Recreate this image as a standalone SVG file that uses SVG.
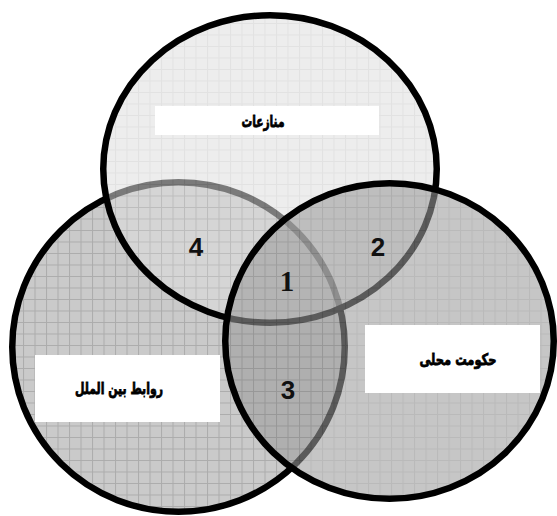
<svg xmlns="http://www.w3.org/2000/svg" width="557" height="516" viewBox="0 0 557 516">
<defs>
<style>
.ring{stroke:#000;stroke-width:6.5}
.box{fill:#fff}
.lbl{font-family:"DejaVu Sans","Noto Sans",sans-serif;font-weight:bold;font-size:16px;fill:#000;stroke:#000;stroke-width:0.8;text-anchor:middle}
.num{font-family:"Liberation Sans",Arial,sans-serif;font-weight:bold;font-size:26px;fill:#111;text-anchor:middle}
.num1{font-family:"Liberation Serif","Times New Roman",serif;font-weight:bold;font-size:29px;fill:#111;text-anchor:middle}
</style>
<pattern id="gL" patternUnits="userSpaceOnUse" width="11.5" height="11.5">
<rect width="11.5" height="11.5" fill="#cacaca"/>
<path d="M0 0.5H11.5M0.5 0V11.5" stroke="#acacac" stroke-width="1"/>
</pattern>
<pattern id="gT" patternUnits="userSpaceOnUse" width="11.5" height="11.5">
<rect width="11.5" height="11.5" fill="#dedede"/>
<path d="M0 0.5H11.5M0.5 0V11.5" stroke="#cacaca" stroke-width="1"/>
</pattern>
<pattern id="gR" patternUnits="userSpaceOnUse" width="11.5" height="11.5">
<rect width="11.5" height="11.5" fill="#9c9c9c"/>
<path d="M0 0.5H11.5M0.5 0V11.5" stroke="#888" stroke-width="1"/>
</pattern>
</defs>
<rect width="557" height="516" fill="#fff"/>
<g id="connectors"/>
<g id="node-international">
<ellipse class="ring" cx="178.5" cy="347" rx="166.25" ry="164.75" fill="url(#gL)"/>
<rect class="box" x="35" y="355" width="185" height="67"/>
<text class="lbl" x="119" y="394" textLength="88" lengthAdjust="spacingAndGlyphs">روابط بین الملل</text>
</g>
<g id="node-conflicts">
<ellipse class="ring" cx="270" cy="169" rx="166.75" ry="153.75" fill="url(#gT)" fill-opacity="0.55"/>
<rect class="box" x="155" y="106" width="224" height="29"/>
<text class="lbl" x="263" y="127" textLength="43" lengthAdjust="spacingAndGlyphs">منازعات</text>
</g>
<g id="node-local-government">
<ellipse class="ring" cx="389.5" cy="341" rx="164.25" ry="157.75" fill="url(#gR)" fill-opacity="0.58"/>
<rect class="box" x="365" y="325" width="175" height="68"/>
<text class="lbl" x="458" y="365" textLength="77" lengthAdjust="spacingAndGlyphs">حکومت محلی</text>
</g>
<g id="regions">
<text class="num" x="196" y="256">4</text>
<text class="num" x="378" y="256">2</text>
<text class="num1" x="287" y="291">1</text>
<text class="num" x="288" y="399">3</text>
</g>
</svg>
